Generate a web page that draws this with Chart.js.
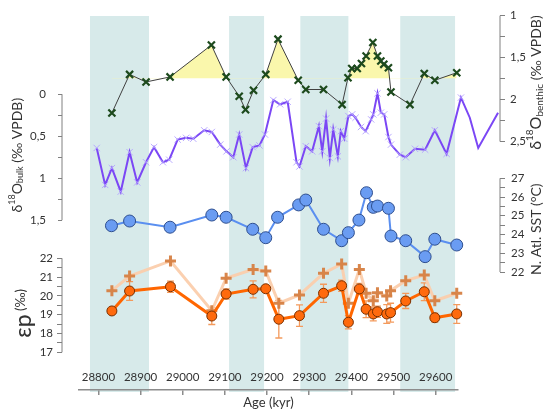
<!DOCTYPE html>
<html>
<head>
<meta charset="utf-8">
<script src="https://cdn.jsdelivr.net/npm/chart.js@4/dist/chart.umd.min.js"></script>
<style>
  html, body { margin: 0; padding: 0; background: #fff; }
  #wrap { width: 545px; height: 411px; }
</style>
</head>
<body>
<div id="wrap"><canvas id="c" width="545" height="411"></canvas></div>
<script>
// ---------- data ----------
const ageTicks = [28800, 28900, 29000, 29100, 29200, 29300, 29400, 29500, 29600];
const ageRange = [28754, 29653];

// cold intervals shaded in the background (kyr)
const coldIntervals = [[28780, 28920], [29110, 29193], [29279, 29393], [29516, 29646]];

// benthic foraminifera d18O (‰ VPDB)
const benthicAge  = [28832, 28874, 28913, 28970, 29068, 29103, 29134, 29149, 29168, 29197, 29226, 29274, 29292, 29334, 29378, 29392, 29401, 29414, 29424, 29435, 29451, 29462, 29470, 29477, 29488, 29494, 29539, 29573, 29598, 29650];
const benthicD18O = [2.16, 1.70, 1.79, 1.73, 1.35, 1.73, 1.96, 2.12, 1.89, 1.70, 1.28, 1.77, 1.88, 1.88, 2.06, 1.74, 1.63, 1.63, 1.57, 1.48, 1.32, 1.48, 1.54, 1.58, 1.62, 1.91, 2.06, 1.69, 1.77, 1.68];
const benthicReference = 1.75;

// bulk carbonate d18O (‰ VPDB)
const bulkAge  = [28796, 28816, 28832, 28853, 28874, 28892, 28913, 28932, 28953, 28968, 28988, 29008, 29025, 29051, 29069, 29089, 29104, 29120, 29134, 29150, 29166, 29182, 29195, 29215, 29231, 29249, 29270, 29277, 29292, 29307, 29323, 29331, 29340, 29349, 29357, 29368, 29375, 29383, 29393, 29402, 29410, 29423, 29434, 29447, 29452, 29462, 29470, 29478, 29488, 29494, 29515, 29529, 29551, 29575, 29598, 29626, 29660, 29681, 29701, 29748];
const bulkD18O = [0.64, 1.08, 0.88, 1.16, 0.69, 1.05, 0.81, 0.63, 0.81, 0.78, 0.54, 0.52, 0.53, 0.43, 0.45, 0.60, 0.68, 0.75, 0.48, 0.88, 0.63, 0.61, 0.48, 0.07, 0.12, 0.09, 0.81, 0.86, 0.62, 0.68, 0.38, 0.68, 0.29, 0.76, 0.42, 0.74, 0.44, 0.53, 0.26, 0.24, 0.28, 0.39, 0.44, 0.30, 0.24, -0.01, 0.22, 0.24, 0.51, 0.60, 0.72, 0.75, 0.65, 0.66, 0.43, 0.71, 0.04, 0.28, 0.64, 0.22];

// North Atlantic sea surface temperature (°C)
const sstAge    = [28831, 28874, 28970, 29069, 29103, 29166, 29197, 29225, 29275, 29292, 29334, 29377, 29393, 29418, 29436, 29452, 29462, 29488, 29494, 29529, 29575, 29598, 29650];
const sstValues = [24.47, 24.72, 24.39, 25.04, 24.92, 24.28, 23.83, 24.92, 25.58, 25.84, 24.28, 23.67, 24.10, 24.77, 26.23, 25.45, 25.52, 25.40, 23.92, 23.67, 22.82, 23.75, 23.44];

// carbon isotope fractionation εp (‰), with uncertainty, and the alternative estimate
const epAge       = [28832, 28874, 28971, 29069, 29103, 29167, 29197, 29228, 29277, 29334, 29377, 29393, 29419, 29435, 29452, 29462, 29484, 29493, 29529, 29573, 29598, 29650];
const epValues    = [19.20, 20.26, 20.49, 18.93, 20.10, 20.35, 20.38, 18.76, 18.95, 20.14, 20.54, 18.60, 20.37, 19.29, 19.04, 19.16, 19.04, 19.11, 19.73, 20.22, 18.84, 19.04];
const epError     = [0, 0.50, 0.30, 0.45, 0.27, 0.45, 0, 1.00, 0.57, 0.48, 0.30, 0.35, 0.30, 0.45, 0.37, 0.30, 0.50, 0.50, 0.40, 0.47, 0.24, 0.50];
const epAltValues = [20.28, 21.06, 21.86, 19.21, 20.94, 21.41, 21.32, 19.61, 20.05, 21.20, 21.70, 19.61, 21.41, 20.14, 19.74, 20.17, 19.99, 20.28, 20.81, 21.11, 19.74, 20.14];

// axis ticks
const benthicTicks = [1, 1.25, 1.5, 1.75, 2, 2.25, 2.5];
const bulkTicks    = [0, 0.25, 0.5, 0.75, 1, 1.25, 1.5];
const sstTicks     = [22, 22.5, 23, 23.5, 24, 24.5, 25, 25.5, 26, 26.5, 27];
const epTicks      = [17, 17.5, 18, 18.5, 19, 19.5, 20, 20.5, 21, 21.5, 22];

// ---------- layout helpers ----------
const FONT = 'Lato, "Liberation Sans", sans-serif';
const AREA_TOP = 16, AREA_BOTTOM = 390;
const AREA_MID = (AREA_TOP + AREA_BOTTOM) / 2;   // upper / lower axis stack split
const UPPER = [AREA_TOP, AREA_MID], LOWER = [AREA_MID, AREA_BOTTOM];

// pick min/max so that two values land on the wanted rows of the axis box
function axisRange(box, v1, p1, v2, p2) {
  const [top, bottom] = box;
  const k = (v2 - v1) / (p2 - p1);
  const atTop = v1 + (top - p1) * k;
  const atBottom = v1 + (bottom - p1) * k;
  return { min: Math.min(atTop, atBottom), max: Math.max(atTop, atBottom), reverse: atTop < atBottom };
}
const fixedTicks = values => scale => { scale.ticks = values.map(v => ({ value: v })); };
const fixedWidth = w => scale => { scale.width = w; scale.paddingTop = 0; scale.paddingBottom = 0; };
const labelEvery = step => v => {
  const r = v / step;
  return Math.abs(r - Math.round(r)) < 1e-6 ? String(+v.toFixed(2)).replace('.', ',') : '';
};

function yAxis(position, stack, weight, width, range, ticks, step, pad, tl) {
  return {
    type: 'linear', position, stack, stackWeight: 1, weight, ...range,
    afterBuildTicks: fixedTicks(ticks),
    afterFit: fixedWidth(width),
    grid: { display: true, drawOnChartArea: false, drawTicks: true, tickLength: tl, color: '#808080', lineWidth: 1 },
    border: { display: false },
    ticks: { autoSkip: false, padding: pad, color: '#333', font: { family: FONT, size: 11.5 }, callback: labelEvery(step) }
  };
}
function spacer(position, width) {
  return {
    type: 'linear', position, weight: 0, display: true,
    afterFit: fixedWidth(width),
    ticks: { display: false }, grid: { display: false }, border: { display: false }
  };
}

const pts = (xs, ys) => xs.map((x, i) => ({ x, y: ys[i] }));

// ---------- plugins ----------
const bandsPlugin = {
  id: 'bands',
  beforeDraw(chart) {
    const { ctx, chartArea, scales: { x } } = chart;
    ctx.save();
    ctx.fillStyle = '#d7eaea';
    coldIntervals.forEach(([a, b]) => {
      const x1 = x.getPixelForValue(a), x2 = x.getPixelForValue(b);
      ctx.fillRect(x1, chartArea.top, x2 - x1, chartArea.bottom - chartArea.top + 2);
    });
    ctx.restore();
  }
};

const errorBarsPlugin = {
  id: 'errorBars',
  beforeDatasetsDraw(chart) {
    const { ctx, scales } = chart;
    const x = scales.x, y = scales.yEp;
    ctx.save();
    ctx.strokeStyle = '#f39a5c';
    ctx.lineWidth = 1.3;
    epAge.forEach((age, i) => {
      const e = epError[i];
      if (!e) return;
      const px = x.getPixelForValue(age);
      const y1 = y.getPixelForValue(epValues[i] - e), y2 = y.getPixelForValue(epValues[i] + e);
      ctx.beginPath();
      ctx.moveTo(px, y1); ctx.lineTo(px, y2);
      ctx.moveTo(px - 3.5, y1); ctx.lineTo(px + 3.5, y1);
      ctx.moveTo(px - 3.5, y2); ctx.lineTo(px + 3.5, y2);
      ctx.stroke();
    });
    ctx.restore();
  }
};

function drawRotated(ctx, cx, cy, parts) {
  ctx.save();
  ctx.translate(cx, cy);
  ctx.rotate(-Math.PI / 2);
  ctx.textBaseline = 'middle';
  ctx.textAlign = 'left';
  ctx.fillStyle = '#333';
  let total = 0;
  parts.forEach(p => { ctx.font = p.size + 'px ' + FONT; p.w = ctx.measureText(p.text).width; total += p.w; });
  let pos = -total / 2;
  parts.forEach(p => { ctx.font = p.size + 'px ' + FONT; ctx.fillText(p.text, pos, p.dy || 0); pos += p.w; });
  ctx.restore();
}

const axesDecorPlugin = {
  id: 'axesDecor',
  afterDraw(chart) {
    const { ctx, scales } = chart;
    // axis spines limited to each panel's labelled range
    const spine = (scale, ticks) => {
      const xPix = scale.position === 'left' ? scale.right : scale.left;
      ctx.beginPath();
      ctx.moveTo(xPix, scale.getPixelForValue(ticks[0]));
      ctx.lineTo(xPix, scale.getPixelForValue(ticks[ticks.length - 1]));
      ctx.stroke();
    };
    ctx.save();
    ctx.strokeStyle = '#808080';
    ctx.lineWidth = 1;
    spine(scales.yBenthic, benthicTicks);
    spine(scales.yBulk, bulkTicks);
    spine(scales.ySst, sstTicks);
    spine(scales.yEp, epTicks);
    ctx.restore();

    const mid = (scale, ticks) => (scale.getPixelForValue(ticks[0]) + scale.getPixelForValue(ticks[ticks.length - 1])) / 2;
    drawRotated(ctx, 17, mid(scales.yBulk, bulkTicks) - 2, [
      { text: 'δ', size: 14 }, { text: '18', size: 9, dy: -5 }, { text: 'O', size: 14 },
      { text: 'bulk', size: 9, dy: 3 }, { text: ' (‰ VPDB)', size: 14 }
    ]);
    drawRotated(ctx, 24, mid(scales.yEp, epTicks) + 8, [
      { text: 'εp', size: 23 }, { text: ' (‰)', size: 13, dy: -3 }
    ]);
    drawRotated(ctx, 536, mid(scales.yBenthic, benthicTicks) + 4, [
      { text: 'δ', size: 16 }, { text: '18', size: 10, dy: -6 }, { text: 'O', size: 16 },
      { text: 'benthic', size: 10, dy: 4 }, { text: ' (‰ VPDB)', size: 14 }
    ]);
    drawRotated(ctx, 536, mid(scales.ySst, sstTicks) + 4, [
      { text: 'N. Atl. SST (°C)', size: 14 }
    ]);
  }
};

// ---------- chart ----------
new Chart(document.getElementById('c'), {
  type: 'line',
  data: {
    datasets: [
      {
        label: 'δ18O benthic',
        data: pts(benthicAge, benthicD18O),
        yAxisID: 'yBenthic',
        clip: false,
        borderColor: '#404040', borderWidth: 1,
        fill: { target: { value: benthicReference }, above: 'rgb(250,247,172)', below: 'rgba(0,0,0,0)' },
        pointStyle: 'crossRot', pointRadius: 5,
        pointBorderColor: '#1d4a1d', pointBorderWidth: 2.2, pointBackgroundColor: '#1d4a1d'
      },
      {
        label: 'δ18O bulk',
        data: pts(bulkAge, bulkD18O),
        yAxisID: 'yBulk',
        clip: false,
        borderColor: '#7b47f5', borderWidth: 2,
        pointStyle: 'crossRot', pointRadius: 4.5,
        pointBorderColor: 'rgba(178,162,255,0.9)', pointBorderWidth: 1
      },
      {
        label: 'N. Atl. SST',
        data: pts(sstAge, sstValues),
        yAxisID: 'ySst',
        clip: false,
        borderColor: '#5a8ff0', borderWidth: 2,
        pointStyle: 'circle', pointRadius: 6,
        pointBackgroundColor: '#6a9cf2', pointBorderColor: '#2f4f8f', pointBorderWidth: 1
      },
      {
        label: 'εp',
        data: pts(epAge, epValues),
        yAxisID: 'yEp',
        clip: false,
        borderColor: '#ff6600', borderWidth: 3,
        pointStyle: 'circle', pointRadius: 5,
        pointBackgroundColor: '#ff6a0d', pointBorderColor: '#7a3000', pointBorderWidth: 1
      },
      {
        label: 'εp (alt.)',
        data: pts(epAge, epAltValues),
        yAxisID: 'yEp',
        clip: false,
        borderColor: 'rgba(251,206,172,0.95)', borderWidth: 3,
        pointStyle: 'cross', pointRadius: 5.5,
        pointBorderColor: 'rgba(214,128,66,0.95)', pointBorderWidth: 3
      }
    ]
  },
  options: {
    responsive: false,
    animation: false,
    devicePixelRatio: 1,
    layout: { padding: { top: AREA_TOP, left: 0, right: 0, bottom: 0 } },
    plugins: { legend: { display: false }, tooltip: { enabled: false } },
    elements: { line: { tension: 0 } },
    scales: {
      x: {
        type: 'linear', position: 'bottom', bounds: 'data',
        // axis window set after the data limits so the bulk record keeps its points past the axis end
        afterDataLimits: scale => { scale.min = ageRange[0]; scale.max = ageRange[1]; },
        afterBuildTicks: fixedTicks(ageTicks),
        afterFit: scale => { scale.height = 411 - AREA_BOTTOM; scale.paddingLeft = 0; scale.paddingRight = 0; },
        grid: { drawOnChartArea: false, drawTicks: true, tickLength: 5, color: '#8c8c8c', lineWidth: 1.5 },
        border: { display: true, color: '#8c8c8c', width: 1.5 },
        ticks: { mirror: true, padding: 6, autoSkip: false, maxRotation: 0, color: '#333', font: { family: FONT, size: 11.5 }, callback: v => String(v) },
        title: { display: true, text: 'Age (kyr)', color: '#333', font: { family: FONT, size: 13 }, padding: { top: 0, bottom: 0 } }
      },
      gapL: spacer('left', 17),
      yEp: yAxis('left', 'leftStack', 1, 62, axisRange(LOWER, 22, 258.3, 17, 352.3), epTicks, 1, 4, 5),
      yBulk: yAxis('left', 'leftStack', 2, 62, axisRange(UPPER, 0, 94.2, 1.5, 220.2), bulkTicks, 0.5, 12, 4),
      gapR: spacer('right', 42),
      yBenthic: yAxis('right', 'rightStack', 1, 45, axisRange(UPPER, 1, 15.7, 2.5, 141.5), benthicTicks, 0.5, 5, 5),
      ySst: yAxis('right', 'rightStack', 2, 45, axisRange(LOWER, 27, 178.3, 22, 272), sstTicks, 1, 6, 5)
    }
  },
  plugins: [bandsPlugin, errorBarsPlugin, axesDecorPlugin]
});
</script>
</body>
</html>
